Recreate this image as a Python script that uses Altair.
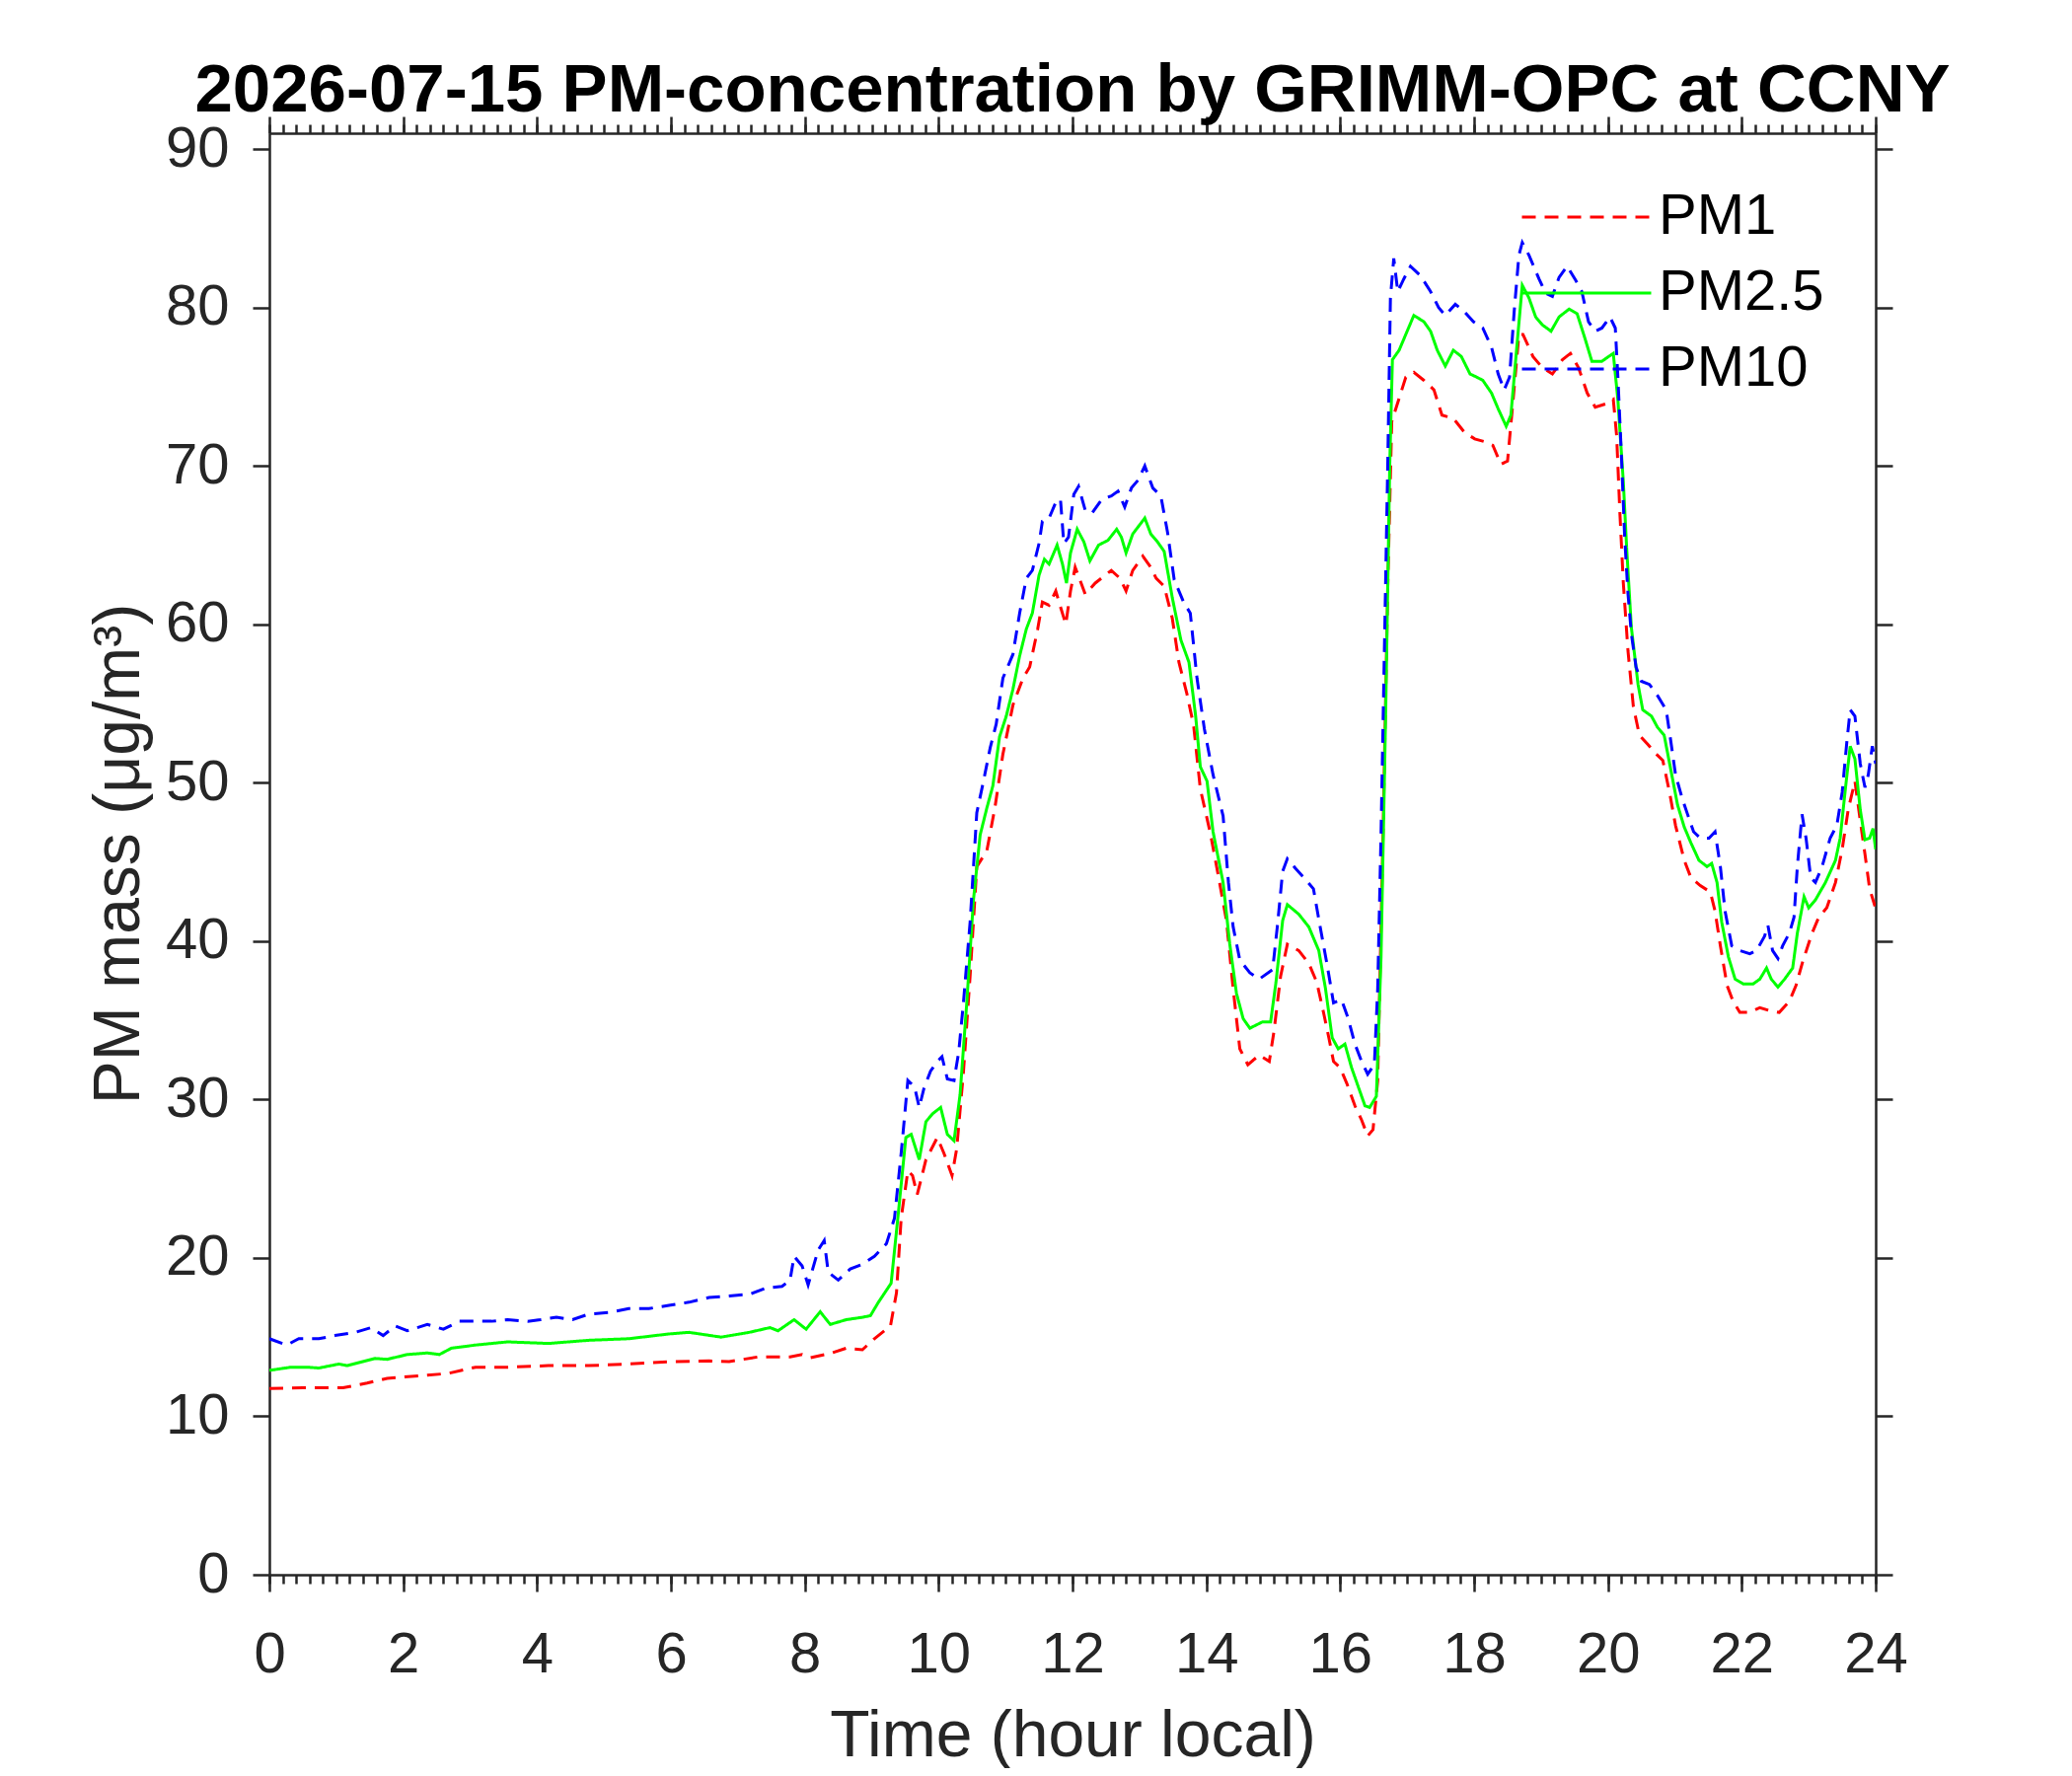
import altair as alt
import pandas as pd

# ---------------- data (hour local, ug/m3) ----------------
pm1 = [(0.0, 11.75), (0.5, 11.8), (1.1, 11.8), (1.46, 12.1), (1.76, 12.4), (2.36, 12.6), (2.66, 12.7),
       (3.08, 13.1), (3.56, 13.1), (4.17, 13.2), (4.77, 13.2), (5.37, 13.3), (5.97, 13.45), (6.57, 13.5),
       (6.87, 13.45), (7.30, 13.75), (7.78, 13.75), (7.96, 13.9), (8.08, 13.7), (8.38, 13.97), (8.62, 14.3),
       (8.86, 14.2), (9.04, 14.9), (9.28, 15.7), (9.37, 17.8), (9.44, 22.5), (9.54, 25.5), (9.61, 25.2),
       (9.68, 24.0), (9.81, 26.2), (9.98, 27.6), (10.08, 26.6), (10.20, 25.2), (10.27, 26.9), (10.37, 31.7),
       (10.47, 37.8), (10.57, 44.7), (10.72, 45.7), (10.84, 48.4), (10.96, 51.8), (11.11, 54.9), (11.26, 56.6),
       (11.36, 57.3), (11.48, 59.7), (11.55, 61.4), (11.65, 61.2), (11.75, 62.1), (11.82, 61.1), (11.90, 60.0),
       (11.97, 62.1), (12.04, 63.6), (12.19, 61.9), (12.34, 62.6), (12.49, 63.1), (12.58, 63.4), (12.71, 62.9),
       (12.80, 62.1), (12.90, 63.4), (13.05, 64.3), (13.17, 63.6), (13.25, 62.9), (13.37, 62.4), (13.49, 60.4),
       (13.59, 57.6), (13.71, 55.6), (13.81, 53.6), (13.91, 49.6), (14.06, 46.8), (14.18, 44.1), (14.30, 41.3),
       (14.40, 37.0), (14.50, 33.2), (14.62, 32.2), (14.79, 32.8), (14.94, 32.4), (15.01, 34.3), (15.11, 37.8),
       (15.21, 39.8), (15.38, 39.4), (15.53, 38.6), (15.65, 37.4), (15.75, 35.5), (15.83, 33.9), (15.90, 32.4),
       (16.00, 32.0), (16.10, 31.0), (16.22, 29.6), (16.32, 28.7), (16.41, 27.7), (16.49, 28.1), (16.56, 31.2),
       (16.64, 46.8), (16.71, 62.3), (16.77, 72.8), (16.86, 74.0), (16.98, 75.6), (17.10, 75.9), (17.25, 75.4),
       (17.40, 74.8), (17.52, 73.2), (17.69, 73.0), (17.86, 72.1), (18.01, 71.7), (18.18, 71.5), (18.28, 71.3),
       (18.40, 70.1), (18.50, 70.3), (18.58, 74.0), (18.67, 78.3), (18.73, 78.3), (18.88, 76.9), (19.02, 76.2),
       (19.17, 75.8), (19.32, 76.7), (19.44, 77.1), (19.56, 76.2), (19.69, 74.6), (19.81, 73.7), (19.96, 73.9),
       (20.08, 74.2), (20.13, 71.9), (20.18, 66.9), (20.23, 62.6), (20.30, 58.3), (20.38, 54.8), (20.47, 53.0),
       (20.60, 52.4), (20.70, 51.9), (20.82, 51.4), (20.92, 49.4), (21.01, 47.3), (21.14, 45.1), (21.24, 44.0),
       (21.38, 43.5), (21.53, 43.1), (21.60, 41.9), (21.68, 39.7), (21.78, 37.2), (21.87, 36.2), (21.97, 35.5),
       (22.12, 35.5), (22.27, 35.8), (22.42, 35.6), (22.56, 35.5), (22.71, 36.2), (22.81, 37.2), (22.91, 38.7),
       (23.05, 40.5), (23.15, 41.5), (23.27, 42.1), (23.40, 43.7), (23.50, 45.8), (23.59, 48.3), (23.69, 50.1),
       (23.77, 47.6), (23.84, 45.5), (23.91, 43.3), (23.99, 42.2)]

pm25 = [(0.0, 12.9), (0.32, 13.1), (0.56, 13.1), (0.74, 13.05), (1.04, 13.3), (1.16, 13.2), (1.58, 13.65),
        (1.76, 13.6), (2.06, 13.9), (2.36, 14.0), (2.54, 13.9), (2.72, 14.3), (3.08, 14.5), (3.56, 14.7),
        (4.17, 14.6), (4.77, 14.8), (5.37, 14.9), (5.97, 15.2), (6.27, 15.3), (6.75, 15.0), (7.17, 15.3),
        (7.48, 15.6), (7.60, 15.4), (7.84, 16.1), (8.02, 15.5), (8.23, 16.6), (8.38, 15.8), (8.62, 16.1),
        (8.86, 16.25), (8.98, 16.35), (9.10, 17.2), (9.29, 18.4), (9.39, 22.5), (9.51, 27.6), (9.59, 27.8),
        (9.71, 26.2), (9.81, 28.6), (9.91, 29.1), (10.03, 29.5), (10.13, 27.8), (10.23, 27.4), (10.32, 30.3),
        (10.42, 36.1), (10.52, 42.6), (10.62, 46.7), (10.72, 48.4), (10.81, 49.8), (10.91, 52.9), (11.01, 54.2),
        (11.11, 55.9), (11.21, 58.0), (11.31, 59.7), (11.40, 60.7), (11.50, 63.1), (11.58, 64.1), (11.65, 63.8),
        (11.77, 65.0), (11.85, 63.8), (11.91, 62.6), (11.97, 64.5), (12.07, 66.0), (12.17, 65.2), (12.26, 64.0),
        (12.39, 65.0), (12.53, 65.3), (12.66, 66.0), (12.73, 65.5), (12.80, 64.5), (12.90, 65.7), (13.08, 66.7),
        (13.17, 65.7), (13.27, 65.2), (13.37, 64.6), (13.49, 61.7), (13.62, 59.0), (13.74, 57.6), (13.84, 54.2),
        (13.91, 51.0), (14.01, 50.1), (14.10, 46.9), (14.25, 43.7), (14.35, 39.8), (14.45, 36.7), (14.55, 35.1),
        (14.65, 34.5), (14.84, 34.9), (14.96, 34.9), (15.04, 37.4), (15.14, 41.3), (15.21, 42.3), (15.38, 41.7),
        (15.53, 40.9), (15.68, 39.4), (15.78, 37.0), (15.88, 33.9), (15.97, 33.2), (16.07, 33.5), (16.17, 32.0),
        (16.27, 30.8), (16.37, 29.6), (16.44, 29.5), (16.54, 30.2), (16.61, 39.0), (16.68, 54.6), (16.74, 70.1),
        (16.78, 76.7), (16.88, 77.3), (16.98, 78.3), (17.10, 79.5), (17.25, 79.1), (17.35, 78.5), (17.45, 77.3),
        (17.57, 76.3), (17.69, 77.3), (17.81, 76.9), (17.94, 75.8), (18.04, 75.6), (18.13, 75.4), (18.26, 74.6),
        (18.36, 73.6), (18.48, 72.5), (18.55, 73.2), (18.63, 77.1), (18.72, 81.4), (18.82, 80.6), (18.92, 79.4),
        (19.02, 78.9), (19.15, 78.5), (19.27, 79.4), (19.42, 79.9), (19.54, 79.6), (19.66, 78.0), (19.76, 76.6),
        (19.91, 76.6), (20.01, 76.9), (20.08, 77.1), (20.15, 74.1), (20.23, 69.0), (20.28, 64.8), (20.35, 59.8),
        (20.45, 56.2), (20.52, 54.6), (20.65, 54.2), (20.74, 53.5), (20.84, 53.0), (20.94, 50.8), (21.04, 48.6),
        (21.14, 47.2), (21.24, 46.2), (21.36, 45.1), (21.48, 44.7), (21.55, 44.9), (21.63, 43.7), (21.70, 41.2),
        (21.80, 39.0), (21.90, 37.6), (22.02, 37.3), (22.17, 37.3), (22.27, 37.6), (22.37, 38.3), (22.44, 37.6),
        (22.54, 37.1), (22.64, 37.6), (22.76, 38.3), (22.83, 40.5), (22.93, 42.8), (23.00, 42.1), (23.10, 42.6),
        (23.25, 43.7), (23.40, 45.1), (23.47, 46.5), (23.55, 49.7), (23.62, 52.3), (23.69, 51.5), (23.77, 48.3),
        (23.84, 46.4), (23.91, 46.5), (23.96, 47.1), (24.0, 45.8)]

pm10 = [(0.0, 14.9), (0.26, 14.5), (0.44, 14.9), (0.74, 14.9), (0.98, 15.1), (1.28, 15.3), (1.52, 15.6),
        (1.70, 15.1), (1.88, 15.7), (2.06, 15.4), (2.36, 15.8), (2.60, 15.5), (2.84, 16.0), (3.08, 16.0),
        (3.32, 16.0), (3.56, 16.1), (3.86, 16.0), (4.05, 16.1), (4.29, 16.25), (4.53, 16.1), (4.77, 16.45),
        (5.07, 16.55), (5.37, 16.8), (5.67, 16.8), (5.97, 17.0), (6.27, 17.2), (6.57, 17.5), (6.87, 17.6),
        (7.17, 17.7), (7.42, 18.1), (7.66, 18.2), (7.78, 18.6), (7.84, 20.1), (7.96, 19.5), (8.05, 18.3),
        (8.20, 20.5), (8.29, 21.1), (8.35, 19.1), (8.50, 18.6), (8.68, 19.3), (8.86, 19.6), (9.04, 20.1),
        (9.22, 20.9), (9.34, 22.5), (9.44, 26.6), (9.54, 31.2), (9.64, 30.8), (9.71, 29.5), (9.78, 30.7),
        (9.88, 31.8), (9.98, 32.4), (10.05, 32.7), (10.13, 31.3), (10.23, 31.2), (10.30, 33.0), (10.37, 36.1),
        (10.47, 41.2), (10.57, 48.1), (10.67, 50.1), (10.77, 52.2), (10.86, 53.7), (10.96, 56.6), (11.11, 58.1),
        (11.21, 60.7), (11.31, 62.9), (11.40, 63.4), (11.50, 65.1), (11.55, 66.5), (11.65, 66.7), (11.75, 67.7),
        (11.82, 67.9), (11.87, 65.1), (11.94, 65.5), (12.02, 68.2), (12.09, 68.7), (12.19, 67.2), (12.29, 67.0),
        (12.44, 67.9), (12.58, 68.1), (12.68, 68.4), (12.78, 67.4), (12.88, 68.6), (12.98, 69.1), (13.08, 70.0),
        (13.20, 68.6), (13.32, 68.1), (13.42, 65.8), (13.52, 62.8), (13.66, 61.4), (13.76, 60.7), (13.86, 56.6),
        (13.97, 53.4), (14.10, 50.5), (14.25, 47.9), (14.33, 43.7), (14.40, 40.9), (14.50, 38.8), (14.65, 38.0),
        (14.79, 37.6), (14.99, 38.2), (15.06, 40.9), (15.14, 44.4), (15.21, 45.2), (15.33, 44.6), (15.48, 43.9),
        (15.60, 43.3), (15.70, 40.9), (15.80, 38.6), (15.90, 36.1), (16.02, 36.3), (16.12, 35.1), (16.22, 33.5),
        (16.32, 32.4), (16.41, 31.6), (16.51, 32.2), (16.56, 37.0), (16.61, 46.8), (16.66, 58.4), (16.71, 70.1),
        (16.75, 80.6), (16.80, 83.1), (16.86, 81.0), (16.95, 81.8), (17.05, 82.6), (17.20, 82.0), (17.35, 81.0),
        (17.47, 80.0), (17.57, 79.5), (17.72, 80.2), (17.84, 79.8), (17.99, 79.1), (18.13, 78.7), (18.26, 77.5),
        (18.36, 75.8), (18.45, 74.8), (18.53, 75.6), (18.60, 79.8), (18.67, 83.3), (18.72, 84.1), (18.82, 83.3),
        (18.97, 81.8), (19.07, 80.9), (19.17, 80.7), (19.27, 81.9), (19.39, 82.6), (19.52, 81.7), (19.61, 81.0),
        (19.71, 79.1), (19.81, 78.5), (19.91, 78.7), (20.03, 79.4), (20.11, 78.7), (20.15, 75.5), (20.20, 70.8),
        (20.25, 65.5), (20.30, 61.9), (20.35, 59.4), (20.42, 57.3), (20.50, 56.4), (20.62, 56.2), (20.74, 55.5),
        (20.87, 54.6), (20.94, 52.6), (21.01, 50.5), (21.11, 49.0), (21.19, 48.0), (21.28, 46.9), (21.38, 46.5),
        (21.51, 46.5), (21.60, 46.9), (21.68, 44.7), (21.75, 41.9), (21.85, 39.7), (21.97, 39.4), (22.12, 39.2),
        (22.22, 39.4), (22.34, 40.3), (22.39, 41.0), (22.46, 39.4), (22.54, 38.9), (22.61, 39.7), (22.71, 40.5),
        (22.78, 41.5), (22.83, 44.7), (22.90, 48.0), (22.96, 46.5), (23.03, 44.0), (23.10, 43.7), (23.20, 44.7),
        (23.32, 46.5), (23.42, 47.3), (23.50, 49.4), (23.57, 52.6), (23.62, 54.6), (23.69, 54.2), (23.77, 51.2),
        (23.84, 49.7), (23.89, 50.5), (23.95, 52.3), (24.0, 51.2)]

series_names = ["PM1", "PM2.5", "PM10"]
series_colors = ["#FF0000", "#00FF00", "#0000FF"]
series_dashes = [[14, 9], [1, 0], [14, 9]]

x_major_ticks = list(range(0, 25, 2))
x_minor_ticks = [round(i * 0.2, 1) for i in range(0, 121)]
y_ticks = list(range(0, 91, 10))

title_text = "2026-07-15 PM-concentration by GRIMM-OPC at CCNY"
x_title = "Time (hour local)"
y_title = "PM mass (\u03bcg/m\u00b3)"

rows = []
for name, pts in zip(series_names, [pm1, pm25, pm10]):
    for i, (t, v) in enumerate(pts):
        rows.append({"series": name, "time": t, "value": v, "order": i})
df = pd.DataFrame(rows)

FONT = "Liberation Sans"
AX = "#262626"

x_scale = alt.Scale(domain=[0, 24], nice=False, zero=False)
y_scale = alt.Scale(domain=[0, 91], nice=False, zero=False)

common_axis = dict(grid=False, domainColor=AX, domainWidth=2.5, tickColor=AX, tickWidth=2.5,
                   labelFont=FONT, labelColor=AX, titleFont=FONT, titleColor=AX)

legend_cfg = dict(title=None, orient="none", legendX=1268, legendY=54,
                  symbolType="stroke", symbolSize=17161, symbolStrokeWidth=3,
                  labelFontSize=58, labelFont=FONT, labelColor="#000000", labelLimit=0,
                  labelOffset=6, clipHeight=62, rowPadding=15, padding=0)

lines = alt.Chart(df).mark_line(strokeWidth=3, clip=True).encode(
    x=alt.X("time:Q", scale=x_scale,
            axis=alt.Axis(orient="bottom", values=x_major_ticks, tickSize=17, labelFontSize=58,
                          labelPadding=35, title=x_title, titleFontSize=66, titleFontWeight="normal",
                          titleBaseline="alphabetic", titleY=183, labelFlush=False, **common_axis)),
    y=alt.Y("value:Q", scale=y_scale,
            axis=alt.Axis(orient="left", values=y_ticks, tickSize=17, labelFontSize=58,
                          labelPadding=24, title=y_title, titleFontSize=66, titleFontWeight="normal",
                          titleAngle=270, titleBaseline="alphabetic", titleAlign="center",
                          titleX=-133, titleY=730, **common_axis)),
    color=alt.Color("series:N", scale=alt.Scale(domain=series_names, range=series_colors),
                    legend=alt.Legend(**legend_cfg)),
    strokeDash=alt.StrokeDash("series:N", scale=alt.Scale(domain=series_names, range=series_dashes),
                              legend=alt.Legend(**legend_cfg)),
    order="order:Q",
)

ghost = alt.Chart(df).mark_line(opacity=0)

minor_bottom = ghost.encode(
    x=alt.X("time:Q", scale=x_scale,
            axis=alt.Axis(orient="bottom", values=x_minor_ticks, tickSize=9, labels=False, domain=False,
                          title=None, **common_axis)),
    y=alt.Y("value:Q", scale=y_scale,
            axis=alt.Axis(orient="right", values=y_ticks, tickSize=17, labels=False, title=None,
                          **common_axis)),
)

major_top = ghost.encode(
    x=alt.X("time:Q", scale=x_scale,
            axis=alt.Axis(orient="top", values=x_major_ticks, tickSize=17, labels=False, title=None,
                          **common_axis)),
    y=alt.Y("value:Q", scale=y_scale, axis=None),
)

minor_top = ghost.encode(
    x=alt.X("time:Q", scale=x_scale,
            axis=alt.Axis(orient="top", values=x_minor_ticks, tickSize=9, labels=False, domain=False,
                          title=None, **common_axis)),
    y=alt.Y("value:Q", scale=y_scale, axis=None),
)

chart = alt.layer(lines, minor_bottom, major_top, minor_top).resolve_axis(
    x="independent", y="independent"
).properties(
    width=1628, height=1461,
    autosize=alt.AutoSizeParams(type="none"),
    padding={"left": 265, "top": 127, "right": 191, "bottom": 196},
    title=alt.TitleParams(text=title_text, font=FONT, fontSize=69, fontWeight="bold", color="#000000",
                          anchor="middle", frame="group", baseline="alphabetic", offset=3, dy=68),
).configure_view(stroke=None).configure(background="white")

chart.save("out.html", embed_options={"renderer": "svg", "actions": False})
